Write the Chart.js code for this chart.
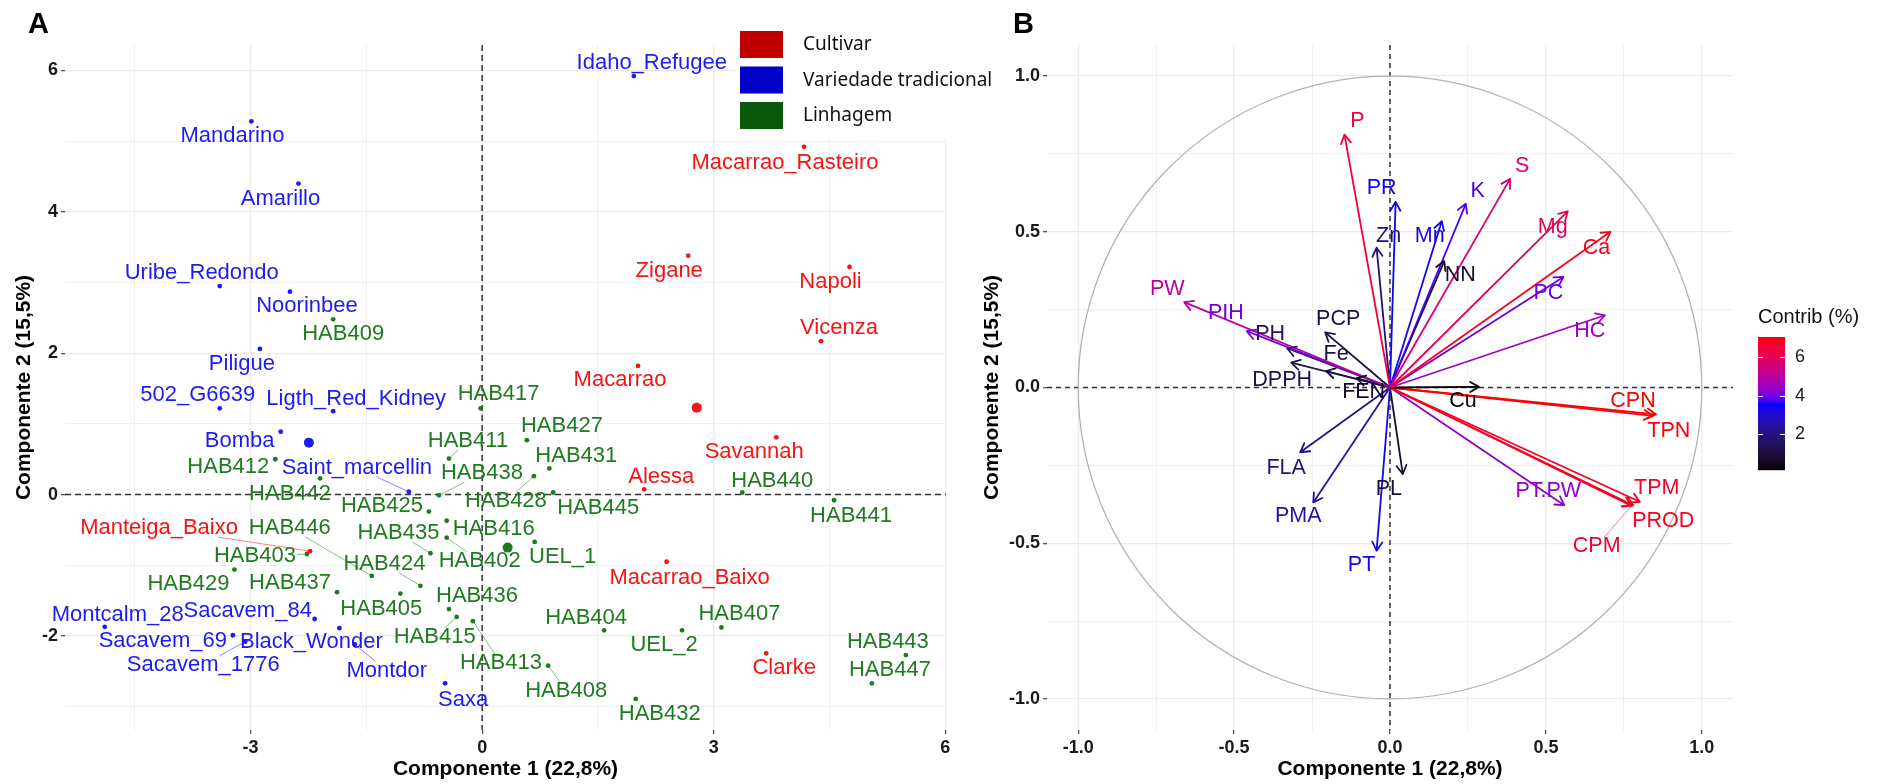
<!DOCTYPE html>
<html>
<head>
<meta charset="utf-8">
<script src="https://cdn.jsdelivr.net/npm/chart.js@4.4.1/dist/chart.umd.min.js"></script>
<style>
  body { margin: 0; background: #fff; }
  #wrap { position: relative; width: 1879px; height: 784px; }
  canvas { position: absolute; top: 0; }
  #indChart { left: 0; }
  #varChart { left: 965px; }
</style>
</head>
<body>
<div id="wrap">
  <canvas id="indChart" width="1000" height="784"></canvas>
  <canvas id="varChart" width="914" height="784"></canvas>
</div>
<script>
Chart.defaults.font.family = '"Liberation Sans", Arial, sans-serif';
Chart.defaults.animation = false;

// ---- panel A : individuals on PC1 / PC2 ----
var groupNames = ["Cultivar", "Variedade tradicional", "Linhagem"];

var cultivarNames = ["Macarrao_Rasteiro", "Zigane", "Napoli", "Vicenza", "Macarrao", "Savannah", "Alessa", "Macarrao_Baixo", "Clarke", "Manteiga_Baixo"];
var cultivarPC1 = [4.17, 2.67, 4.76, 4.39, 2.02, 3.81, 2.10, 2.39, 3.68, -2.23];
var cultivarPC2 = [4.92, 3.38, 3.22, 2.17, 1.82, 0.81, 0.075, -0.95, -2.245, -0.80];

var varietyNames = ["Idaho_Refugee", "Mandarino", "Amarillo", "Uribe_Redondo", "Noorinbee", "Piligue", "502_G6639", "Ligth_Red_Kidney", "Bomba", "Saint_marcellin", "Montcalm_28", "Sacavem_84", "Sacavem_69", "Black_Wonder", "Sacavem_1776", "Montdor", "Saxa"];
var varietyPC1 = [1.965, -2.99, -2.38, -3.40, -2.49, -2.88, -3.40, -1.93, -2.61, -0.95, -4.89, -2.17, -3.23, -1.85, -3.07, -1.65, -0.48];
var varietyPC2 = [5.92, 5.28, 4.40, 2.95, 2.87, 2.06, 1.22, 1.18, 0.89, 0.04, -1.87, -1.76, -1.99, -1.89, -2.08, -2.12, -2.67];

var lineNames = ["HAB409", "HAB417", "HAB412", "HAB442", "HAB411", "HAB438", "HAB427", "HAB431", "HAB428", "HAB445", "HAB440", "HAB441", "HAB425", "HAB416", "HAB435", "HAB402", "UEL_1", "HAB403", "HAB446", "HAB429", "HAB424", "HAB437", "HAB405", "HAB436", "HAB415", "HAB413", "HAB404", "UEL_2", "HAB407", "HAB408", "HAB432", "HAB443", "HAB447"];
var linePC1 = [-1.93, -0.02, -2.68, -2.10, -0.43, -0.56, 0.58, 0.87, 0.67, 0.92, 3.37, 4.56, -0.69, -0.46, -0.67, -0.46, 0.68, -2.27, -1.43, -3.21, -0.80, -1.88, -1.06, -0.43, -0.33, -0.12, 1.58, 2.59, 3.10, 0.855, 1.99, 5.49, 5.05];
var linePC2 = [2.48, 1.22, 0.50, 0.23, 0.51, -0.01, 0.77, 0.37, 0.26, 0.03, 0.03, -0.08, -0.24, -0.37, -0.83, -0.61, -0.67, -0.84, -1.15, -1.06, -1.29, -1.38, -1.40, -1.62, -1.73, -1.79, -1.92, -1.92, -1.88, -2.42, -2.89, -2.27, -2.67];

// group means (cultivar, variedade, linhagem)
var centroidPC1 = [2.78, -2.245, 0.33];
var centroidPC2 = [1.23, 0.735, -0.75];

var pc1Grid = [-4.5, -3, -1.5, 0, 1.5, 3, 4.5, 6];
var pc2Grid = [-3, -2, -1, 0, 1, 2, 3, 4, 5, 6];

// ---- panel B : variables on the correlation circle ----
var varNames = ["P", "PR", "Zn", "PW", "PIH", "PH", "DPPH", "Fe", "FEN", "PCP", "S", "K", "Mn", "NN", "Mg", "Ca", "PC", "HC", "Cu", "CPN", "TPN", "TPM", "PROD", "CPM", "PT.PW", "FLA", "PMA", "PT", "PL"];
var varDim1 = [-0.146, 0.018, -0.043, -0.660, -0.459, -0.330, -0.317, -0.205, -0.107, -0.208, 0.385, 0.243, 0.166, 0.174, 0.570, 0.707, 0.556, 0.689, 0.285, 0.853, 0.843, 0.801, 0.780, 0.775, 0.559, -0.288, -0.246, -0.043, 0.041];
var varDim2 = [0.812, 0.596, 0.449, 0.274, 0.181, 0.126, 0.080, 0.053, 0.030, 0.177, 0.670, 0.590, 0.534, 0.406, 0.566, 0.500, 0.355, 0.232, 0.002, -0.086, -0.091, -0.367, -0.378, -0.380, -0.378, -0.208, -0.369, -0.524, -0.278];
var varContrib = [6.4, 3.4, 1.8, 5.0, 4.0, 1.6, 1.3, 1.0, 0.6, 1.1, 5.7, 3.75, 3.3, 0.8, 6.0, 6.8, 3.95, 4.5, 0.16, 7.02, 6.95, 6.7, 6.8, 6.6, 4.3, 2.0, 2.4, 3.3, 0.9];
var contribTicks = [2, 4, 6];
var unitGrid = [-1, -0.75, -0.5, -0.25, 0, 0.25, 0.5, 0.75, 1];

// label placement (pixels from the point / arrow tip)
var indLabelOffset = {
  Macarrao_Rasteiro: [-19, 16], Zigane: [-19, 15], Napoli: [-19, 15], Vicenza: [18, -13], Macarrao: [-18, 14],
  Savannah: [-22, 15], Alessa: [17, -12], Macarrao_Baixo: [23, 16], Clarke: [18, 15], Manteiga_Baixo: [-151, -23],
  Idaho_Refugee: [18, -13], Mandarino: [-19, 15], Amarillo: [-18, 15], Uribe_Redondo: [-18, -13], Noorinbee: [17, 14],
  Piligue: [-18, 15], "502_G6639": [-22, -13], Ligth_Red_Kidney: [23, -12], Bomba: [-41, 9], Saint_marcellin: [-52, -24],
  Montcalm_28: [13, -12], Sacavem_84: [-67, -8], Sacavem_69: [-70, 6], Black_Wonder: [-28, 14], Sacavem_1776: [-42, 23],
  Montdor: [32, 26], Saxa: [18, 17],
  HAB409: [10, 15], HAB417: [18, -14], HAB412: [-47, 8], HAB442: [-30, 16], HAB411: [19, -18], HAB438: [43, -22],
  HAB427: [35, -14], HAB431: [27, -13], HAB428: [-28, 25], HAB445: [45, 15], HAB440: [30, -12], HAB441: [17, 16],
  HAB425: [-47, -6], HAB416: [47, 8], HAB435: [-32, -20], HAB402: [33, 23], UEL_1: [28, 15], HAB403: [-52, 2],
  HAB446: [-82, -48], HAB429: [-46, 14], HAB424: [-36, -22], HAB437: [-47, -9], HAB405: [-19, 15], HAB436: [28, -13],
  HAB415: [-22, 20], HAB413: [28, 42], HAB404: [-18, -12], UEL_2: [-18, 15], HAB407: [18, -14], HAB408: [18, 25],
  HAB432: [24, 15], HAB443: [-18, -13], HAB447: [18, -13]
};
var indLeaders = ["Manteiga_Baixo", "Saint_marcellin", "Sacavem_1776", "Montdor", "HAB411", "HAB438", "HAB428", "HAB435", "HAB402", "HAB446", "HAB424", "HAB415", "HAB413", "HAB408", "HAB403"];

var varLabelOffset = {
  P: [13, -14], PR: [-14, -14], Zn: [12, -12], PW: [-17, -13], PIH: [-21, -18], PH: [-17, -14], DPPH: [-9, 17],
  Fe: [10, -17], FEN: [7, 14], PCP: [13, -13], S: [12, -13], K: [12, -13], Mn: [-12, 15], NN: [16, 14],
  Mg: [-15, 16], Ca: [-14, 16], PC: [-15, 16], HC: [-15, 16], Cu: [-16, 14], CPN: [-23, -13], TPN: [16, 15],
  TPM: [17, -14], PROD: [30, 16], CPM: [-35, 40], "PT.PW": [-16, -14], FLA: [-14, 16], PMA: [-15, 14],
  PT: [-15, 14], PL: [-14, 15]
};
var varLeaders = ["CPM"];

var groupColors = ["#f41414", "#1c1cf0", "#1f7b1f"];
var legendColors = ["#c00000", "#0000c8", "#0b5a0b"];

// contrib colour scale: black -> blue -> red, interpolated in Lab
function toLinear(c) { c /= 255; return c <= 0.04045 ? c / 12.92 : Math.pow((c + 0.055) / 1.055, 2.4); }
function toByte(c) {
  c = c <= 0.0031308 ? 12.92 * c : 1.055 * Math.pow(c, 1 / 2.4) - 0.055;
  return Math.round(Math.min(1, Math.max(0, c)) * 255);
}
function rgbToLab(rgb) {
  var r = toLinear(rgb[0]), g = toLinear(rgb[1]), b = toLinear(rgb[2]);
  var X = (0.4124 * r + 0.3576 * g + 0.1805 * b) / 0.95047;
  var Y = 0.2126 * r + 0.7152 * g + 0.0722 * b;
  var Z = (0.0193 * r + 0.1192 * g + 0.9505 * b) / 1.08883;
  var f = function(t) { return t > 0.008856 ? Math.cbrt(t) : 7.787 * t + 16 / 116; };
  var fx = f(X), fy = f(Y), fz = f(Z);
  return [116 * fy - 16, 500 * (fx - fy), 200 * (fy - fz)];
}
function labToCss(lab) {
  var fy = (lab[0] + 16) / 116, fx = fy + lab[1] / 500, fz = fy - lab[2] / 200;
  var inv = function(t) { var t3 = t * t * t; return t3 > 0.008856 ? t3 : (t - 16 / 116) / 7.787; };
  var X = inv(fx) * 0.95047, Y = inv(fy), Z = inv(fz) * 1.08883;
  var r = 3.2406 * X - 1.5372 * Y - 0.4986 * Z;
  var g = -0.9689 * X + 1.8758 * Y + 0.0415 * Z;
  var b = 0.0557 * X - 0.2040 * Y + 1.0570 * Z;
  return "rgb(" + toByte(r) + "," + toByte(g) + "," + toByte(b) + ")";
}
var gradStops = [[0, 0, 0], [0, 0, 255], [255, 0, 0]].map(rgbToLab);
var contribMin = Math.min.apply(null, varContrib);
var contribMax = Math.max.apply(null, varContrib);
function contribColor(v) {
  var t = (v - contribMin) / (contribMax - contribMin);
  t = Math.min(1, Math.max(0, t)) * (gradStops.length - 1);
  var i = Math.min(gradStops.length - 2, Math.floor(t)), f = t - i;
  var a = gradStops[i], b = gradStops[i + 1];
  return labToCss([a[0] + (b[0] - a[0]) * f, a[1] + (b[1] - a[1]) * f, a[2] + (b[2] - a[2]) * f]);
}

var toPoints = function(xs, ys) { return xs.map(function(x, i) { return { x: x, y: ys[i] }; }); };

// linear axis with ggplot-like major/minor grid
function gridScale(o) {
  var major = function(c) { return c.tick ? o.isMajor(c.tick.value) : true; };
  return {
    type: "linear", min: o.min, max: o.max,
    afterBuildTicks: function(s) { s.ticks = o.grid.map(function(v) { return { value: v }; }); },
    afterFit: function(s) { if (o.width) s.width = o.width; if (o.height) s.height = o.height; },
    border: { display: false },
    grid: {
      color: "#ebebeb",
      lineWidth: function(c) { return major(c) ? 1.3 : 0.8; },
      tickLength: 4,
      tickColor: function(c) { return major(c) ? "#555" : "rgba(0,0,0,0)"; }
    },
    ticks: {
      autoSkip: false, maxRotation: 0, padding: 3, color: "#1a1a1a",
      font: { size: 18, weight: "bold" },
      callback: function(v) { return o.isMajor(v) ? o.fmt(v) : ""; }
    },
    title: { display: true, text: o.title, color: "#000", font: { size: 21, weight: "bold" }, padding: o.titlePad }
  };
}

function zeroLines(dash) {
  return {
    id: "zeroLines",
    beforeDatasetsDraw: function(chart) {
      var ctx = chart.ctx, a = chart.chartArea;
      var x0 = chart.scales.x.getPixelForValue(0), y0 = chart.scales.y.getPixelForValue(0);
      ctx.save();
      ctx.strokeStyle = "#333";
      ctx.lineWidth = 1.5;
      ctx.setLineDash(dash);
      ctx.beginPath();
      ctx.moveTo(a.left, y0); ctx.lineTo(a.right, y0);
      ctx.moveTo(x0, a.top); ctx.lineTo(x0, a.bottom);
      ctx.stroke();
      ctx.restore();
    }
  };
}

// segment from a point to the edge of its label box
function drawLeader(ctx, px, py, lx, ly, hw, hh, color) {
  var dx = px - lx, dy = py - ly;
  var s = Math.min(dx ? hw / Math.abs(dx) : Infinity, dy ? hh / Math.abs(dy) : Infinity);
  if (s >= 1) return;
  ctx.save();
  ctx.strokeStyle = color;
  ctx.globalAlpha = 0.75;
  ctx.lineWidth = 0.7;
  ctx.beginPath();
  ctx.moveTo(lx + dx * s, ly + dy * s);
  ctx.lineTo(px, py);
  ctx.stroke();
  ctx.restore();
}

var indLabels = {
  id: "indLabels",
  afterDatasetsDraw: function(chart) {
    var ctx = chart.ctx;
    ctx.save();
    ctx.font = '22px "Liberation Sans", Arial, sans-serif';
    ctx.textAlign = "center";
    ctx.textBaseline = "middle";
    chart.data.datasets.forEach(function(ds, di) {
      if (!ds.names) return;
      var meta = chart.getDatasetMeta(di);
      ds.names.forEach(function(name, i) {
        var pt = meta.data[i];
        var off = indLabelOffset[name] || [0, -14];
        var lx = pt.x + off[0], ly = pt.y + off[1];
        if (indLeaders.indexOf(name) >= 0) {
          drawLeader(ctx, pt.x, pt.y, lx, ly, ctx.measureText(name).width / 2 + 1, 9, ds.backgroundColor);
        }
        ctx.fillStyle = ds.backgroundColor;
        ctx.fillText(name, lx, ly);
      });
    });
    ctx.restore();
  },
  afterDraw: function(chart) {
    var ctx = chart.ctx;
    ctx.save();
    // legend box sits on top of the panel corner
    ctx.fillStyle = "#fff";
    ctx.fillRect(735, 0, 265, 139);
    ctx.textBaseline = "middle";
    ctx.font = '19px "Noto Sans", sans-serif';
    groupNames.forEach(function(g, i) {
      var top = 31 + i * 35.5;
      ctx.fillStyle = legendColors[i];
      ctx.fillRect(740, top, 43, 27);
      ctx.fillStyle = "#111";
      ctx.fillText(g, 803, top + 14);
    });
    ctx.font = 'bold 29px "Liberation Sans", Arial, sans-serif';
    ctx.textBaseline = "alphabetic";
    ctx.fillStyle = "#000";
    ctx.fillText("A", 28, 33);
    ctx.restore();
  }
};

var indDatasets = [
  { names: cultivarNames, data: toPoints(cultivarPC1, cultivarPC2), backgroundColor: groupColors[0] },
  { names: varietyNames, data: toPoints(varietyPC1, varietyPC2), backgroundColor: groupColors[1] },
  { names: lineNames, data: toPoints(linePC1, linePC2), backgroundColor: groupColors[2] }
].map(function(d) { d.pointRadius = 2.4; d.borderWidth = 0; return d; });
indDatasets.push({ data: toPoints(centroidPC1, centroidPC2), backgroundColor: groupColors, pointRadius: 5, borderWidth: 0 });

new Chart(document.getElementById("indChart"), {
  type: "scatter",
  data: { datasets: indDatasets },
  options: {
    responsive: false,
    devicePixelRatio: 1,
    layout: { padding: { top: 45, right: 54, bottom: 0, left: 0 } },
    plugins: { legend: { display: false }, tooltip: { enabled: false } },
    scales: {
      x: gridScale({ min: -5.405, max: 6.01, grid: pc1Grid, height: 54, title: "Componente 1 (22,8%)",
        titlePad: { top: 0, bottom: 2 }, isMajor: function(v) { return Math.abs(v % 3) < 1e-9; }, fmt: String }),
      y: gridScale({ min: -3.33, max: 6.36, grid: pc2Grid, width: 65, title: "Componente 2 (15,5%)",
        titlePad: { top: 12, bottom: 0 }, isMajor: function(v) { return Math.abs(v % 2) < 1e-9; }, fmt: String })
    }
  },
  plugins: [zeroLines([6, 4]), indLabels]
});

// ---- panel B ----
var varDatasets = varNames.map(function(name, i) {
  return {
    name: name,
    data: [{ x: 0, y: 0 }, { x: varDim1[i], y: varDim2[i] }],
    showLine: true,
    borderColor: contribColor(varContrib[i]),
    borderWidth: 1.8,
    pointRadius: 0
  };
});

var varArrows = {
  id: "varArrows",
  beforeDatasetsDraw: function(chart) {
    var ctx = chart.ctx, x = chart.scales.x, y = chart.scales.y;
    var cx = x.getPixelForValue(0), cy = y.getPixelForValue(0);
    ctx.save();
    ctx.strokeStyle = "#b3b3b3";
    ctx.lineWidth = 1.3;
    ctx.beginPath();
    ctx.ellipse(cx, cy, x.getPixelForValue(1) - cx, cy - y.getPixelForValue(1), 0, 0, Math.PI * 2);
    ctx.stroke();
    ctx.restore();
  },
  afterDatasetsDraw: function(chart) {
    var ctx = chart.ctx;
    ctx.save();
    ctx.lineCap = "round";
    chart.data.datasets.forEach(function(ds, di) {
      var meta = chart.getDatasetMeta(di);
      var base = meta.data[0], tip = meta.data[1];
      var ang = Math.atan2(tip.y - base.y, tip.x - base.x);
      ctx.strokeStyle = ds.borderColor;
      ctx.lineWidth = 1.8;
      ctx.beginPath();
      [-1, 1].forEach(function(sgn) {
        var a = ang + Math.PI + sgn * Math.PI / 6;
        ctx.moveTo(tip.x, tip.y);
        ctx.lineTo(tip.x + 10 * Math.cos(a), tip.y + 10 * Math.sin(a));
      });
      ctx.stroke();
    });
    ctx.font = '21.5px "Liberation Sans", Arial, sans-serif';
    ctx.textAlign = "center";
    ctx.textBaseline = "middle";
    chart.data.datasets.forEach(function(ds, di) {
      var tip = chart.getDatasetMeta(di).data[1];
      var off = varLabelOffset[ds.name] || [0, -14];
      var lx = tip.x + off[0], ly = tip.y + off[1];
      if (varLeaders.indexOf(ds.name) >= 0) {
        drawLeader(ctx, tip.x, tip.y, lx, ly, ctx.measureText(ds.name).width / 2 + 1, 9, ds.borderColor);
      }
      ctx.fillStyle = ds.borderColor;
      ctx.fillText(ds.name, lx, ly);
    });
    ctx.restore();
  },
  afterDraw: function(chart) {
    var ctx = chart.ctx, a = chart.chartArea;
    var bx = a.right + 25, bw = 27, top = 337, h = 133;
    var yOf = function(v) { return top + (contribMax - v) / (contribMax - contribMin) * h; };
    ctx.save();
    for (var k = 0; k < h; k++) {
      ctx.fillStyle = contribColor(contribMax - (k + 0.5) / h * (contribMax - contribMin));
      ctx.fillRect(bx, top + k, bw, 1.2);
    }
    ctx.strokeStyle = "#fff";
    ctx.lineWidth = 1;
    ctx.fillStyle = "#1a1a1a";
    ctx.font = '18px "Liberation Sans", Arial, sans-serif';
    ctx.textBaseline = "middle";
    contribTicks.forEach(function(v) {
      var py = Math.round(yOf(v)) + 0.5;
      ctx.beginPath();
      ctx.moveTo(bx, py); ctx.lineTo(bx + 5, py);
      ctx.moveTo(bx + bw - 5, py); ctx.lineTo(bx + bw, py);
      ctx.stroke();
      ctx.fillText(String(v), bx + 37, py);
    });
    ctx.font = '20px "Liberation Sans", Arial, sans-serif';
    ctx.fillStyle = "#111";
    ctx.fillText("Contrib (%)", bx, 317);
    ctx.font = 'bold 29px "Liberation Sans", Arial, sans-serif';
    ctx.textBaseline = "alphabetic";
    ctx.fillStyle = "#000";
    ctx.fillText("B", 48, 33);
    ctx.restore();
  }
};

var halfStep = function(v) { return Math.abs((v * 2) % 1) < 1e-9; };
new Chart(document.getElementById("varChart"), {
  type: "scatter",
  data: { datasets: varDatasets },
  options: {
    responsive: false,
    devicePixelRatio: 1,
    layout: { padding: { top: 45, right: 146, bottom: 0, left: 0 } },
    plugins: { legend: { display: false }, tooltip: { enabled: false } },
    scales: {
      x: gridScale({ min: -1.1, max: 1.1, grid: unitGrid, height: 54, title: "Componente 1 (22,8%)",
        titlePad: { top: 0, bottom: 2 }, isMajor: halfStep, fmt: function(v) { return v.toFixed(1); } }),
      y: gridScale({ min: -1.1, max: 1.1, grid: unitGrid, width: 82, title: "Componente 2 (15,5%)",
        titlePad: { top: 15, bottom: 0 }, isMajor: halfStep, fmt: function(v) { return v.toFixed(1); } })
    }
  },
  plugins: [zeroLines([5, 4]), varArrows]
});
</script>
</body>
</html>
